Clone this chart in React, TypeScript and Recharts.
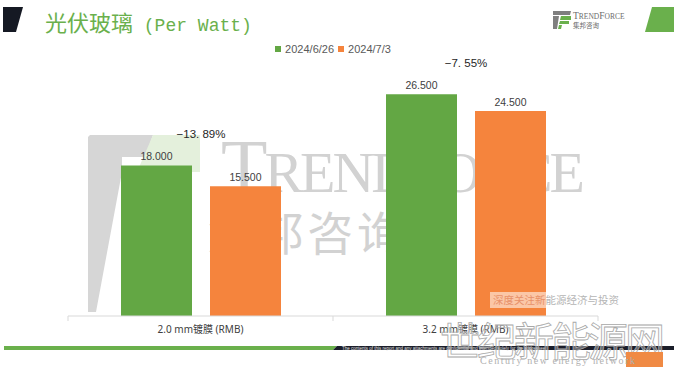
import React from 'react';
import { BarChart, Bar, XAxis, YAxis, LabelList } from 'recharts';

const categories = ['2.0 mm镀膜 (RMB)', '3.2 mm镀膜 (RMB)'];
const seriesNames = ['2024/6/26', '2024/7/3'];
const seriesA = [18.0, 26.5];
const seriesB = [15.5, 24.5];
const changes = ['−13. 89%', '−7. 55%'];
const yDomain = [0, 30];

const GREEN = '#63a744';
const ORANGE = '#f5843d';
const TITLE_GREEN = '#6ab04c';

const data = categories.map((c, i) => ({ name: c, a: seriesA[i], b: seriesB[i], change: changes[i] }));

const HALF_BAND = 132.5;

const CatTick = (props: any) => {
  const { x, y, payload, index } = props;
  return (
    <g>
      {index === 0 && <line x1={x - HALF_BAND} y1={y} x2={x - HALF_BAND} y2={y + 5} stroke="#d9d9d9" />}
      <line x1={x + HALF_BAND} y1={y} x2={x + HALF_BAND} y2={y + 5} stroke="#d9d9d9" />
      <text x={x} y={y + 13} textAnchor="middle" dominantBaseline="central" fontSize={10} fill="#404040"
        fontFamily="'Noto Sans', 'Noto Sans CJK SC', sans-serif">{payload.value}</text>
    </g>
  );
};

const ChangeLabel = (props: any) => {
  const { x, y, width, index } = props;
  const cx = Number(x) + Number(width) + 9;
  return (
    <text x={cx} y={Number(y) - 31} textAnchor="middle" dominantBaseline="central" fontSize={11.5}
      fill="#262626" fontFamily="'Liberation Sans', Arial, sans-serif">{changes[index]}</text>
  );
};

export default function App() {
  return (
    <div style={{ position: 'absolute', left: 0, top: 0, width: 674, height: 372, background: '#fff', overflow: 'hidden' }}>
      {/* background watermark */}
      <svg width={674} height={372} style={{ position: 'absolute', left: 0, top: 0 }}>
        <polygon points="90,135 153,135 145,157 122,157 122,172 96,312 88,312 88,137" fill="#d6d6d6" />
        <polygon points="153,135 200,135 200,172 137,172" fill="#e4f0dc" />
        <text x={221} y={192} fill="#d2d2d2" fontFamily="'Liberation Serif', serif" textLength={364} lengthAdjust="spacing">
          <tspan fontSize={76}>T</tspan><tspan fontSize={58}>RENDFORCE</tspan>
        </text>
        <text x={208} y={250} fill="#d2d2d2" fontSize={46} fontFamily="'Noto Sans CJK SC', sans-serif" textLength={195} lengthAdjust="spacing">集邦咨询</text>
      </svg>

      <div style={{ position: 'absolute', left: 0, top: 0 }}>
        <BarChart width={674} height={372} data={data} margin={{ top: 65, right: 76, bottom: 26, left: 68 }}
          barCategoryGap="20%" barGap={18}>
          <YAxis hide domain={yDomain} />
          <XAxis dataKey="name" height={30} axisLine={{ stroke: '#d9d9d9' }} tickLine={false} tickSize={0} tickMargin={0}
            tick={<CatTick />} interval={0} />
          <Bar dataKey="a" name={seriesNames[0]} fill={GREEN} isAnimationActive={false}>
            <LabelList dataKey="a" position="top" offset={5} fontSize={10.5} fill="#404040"
              fontFamily="'Liberation Sans', Arial, sans-serif" formatter={(v: any) => Number(v).toFixed(3)} />
            <LabelList dataKey="a" content={<ChangeLabel />} />
          </Bar>
          <Bar dataKey="b" name={seriesNames[1]} fill={ORANGE} isAnimationActive={false}>
            <LabelList dataKey="b" position="top" offset={5} fontSize={10.5} fill="#404040"
              fontFamily="'Liberation Sans', Arial, sans-serif" formatter={(v: any) => Number(v).toFixed(3)} />
          </Bar>
        </BarChart>
      </div>

      {/* legend */}
      <div style={{ position: 'absolute', left: 68, top: 42, width: 530, display: 'flex', justifyContent: 'center', alignItems: 'center',
        fontSize: 11, color: '#595959', fontFamily: "'Liberation Sans', Arial, sans-serif", lineHeight: '14px' }}>
        <span style={{ width: 6, height: 6, background: GREEN, display: 'inline-block', marginRight: 4 }} />
        <span style={{ marginRight: 4 }}>{seriesNames[0]}</span>
        <span style={{ width: 6, height: 6, background: ORANGE, display: 'inline-block', marginRight: 4 }} />
        <span>{seriesNames[1]}</span>
      </div>

      {/* title */}
      <div style={{ position: 'absolute', left: 45, top: 8, lineHeight: '26px', color: TITLE_GREEN, whiteSpace: 'nowrap' }}>
        <span style={{ fontFamily: "'Noto Sans CJK SC', sans-serif", fontSize: 22 }}>光伏玻璃</span>
        <span style={{ fontFamily: "'Liberation Mono', monospace", fontSize: 18 }}> (Per Watt)</span>
      </div>

      {/* overlay decorations */}
      <svg width={674} height={372} style={{ position: 'absolute', left: 0, top: 0, pointerEvents: 'none' }}>
        <polygon points="3,7 23,7 16,32 3,32" fill="#151923" />
        <polygon points="652,7 674,7 674,32 645,32" fill={TITLE_GREEN} />
        {/* logo */}
        <polygon points="553,11 571,11 570,15 553,15" fill="#7f7f7f" />
        <polygon points="553,16 559,16 557,29 553,29" fill="#7f7f7f" />
        <polygon points="561,16 571,16 571,20 560,20" fill={TITLE_GREEN} />
        <polygon points="560,21 569,21 569,24 559,24" fill={TITLE_GREEN} />
        <polygon points="559,25 562,25 561,29 558,29" fill={TITLE_GREEN} />
        <text x={573} y={19} fill="#6b6b6b" fontFamily="'Liberation Serif', serif">
          <tspan fontSize={9.5}>T</tspan><tspan fontSize={7.5}>REND</tspan><tspan fontSize={9.5}>F</tspan><tspan fontSize={7.5}>ORCE</tspan>
        </text>
        <text x={573} y={28} fill="#6b6b6b" fontSize={6.5} fontFamily="'Noto Sans CJK SC', sans-serif">集邦咨询</text>

        {/* watermark box */}
        <rect x={490} y={292} width={142} height={16} fill="#ffffff" opacity={0.55} />
        <text x={493} y={304} fontSize={10.5} fontFamily="'Noto Sans CJK SC', sans-serif">
          <tspan fill="#e8916a">深度关注新</tspan><tspan fill="#b5b5b5">能源经济与投资</tspan>
        </text>

        {/* bottom bands */}
        <polygon points="4,346 337,346 333,350 4,350" fill={TITLE_GREEN} />
        <polygon points="337,346 674,346 674,350 333,350" fill="#1b1e2a" />
        <text x={342} y={349.6} fontSize={4.5} fill="#e0e0e0" fontFamily="'Liberation Sans', sans-serif">The contents of this report and any attachments are confidential and intended solely for the addressee</text>

        <text x={440} y={356} fontSize={40} fill="#ffffff" fillOpacity={0.35} stroke="#a8a8a8" strokeWidth={0.8}
          fontFamily="'Noto Sans CJK SC', sans-serif" textLength={225} lengthAdjust="spacing">世纪新能源网</text>
        <rect x={626} y={352} width={37} height={15} fill="#f08a44" />
        <text x={480} y={364} fontSize={10} fill="#b0b0b0" fontFamily="'Liberation Serif', serif" textLength={155} lengthAdjust="spacing">Century new energy network</text>
      </svg>
    </div>
  );
}
